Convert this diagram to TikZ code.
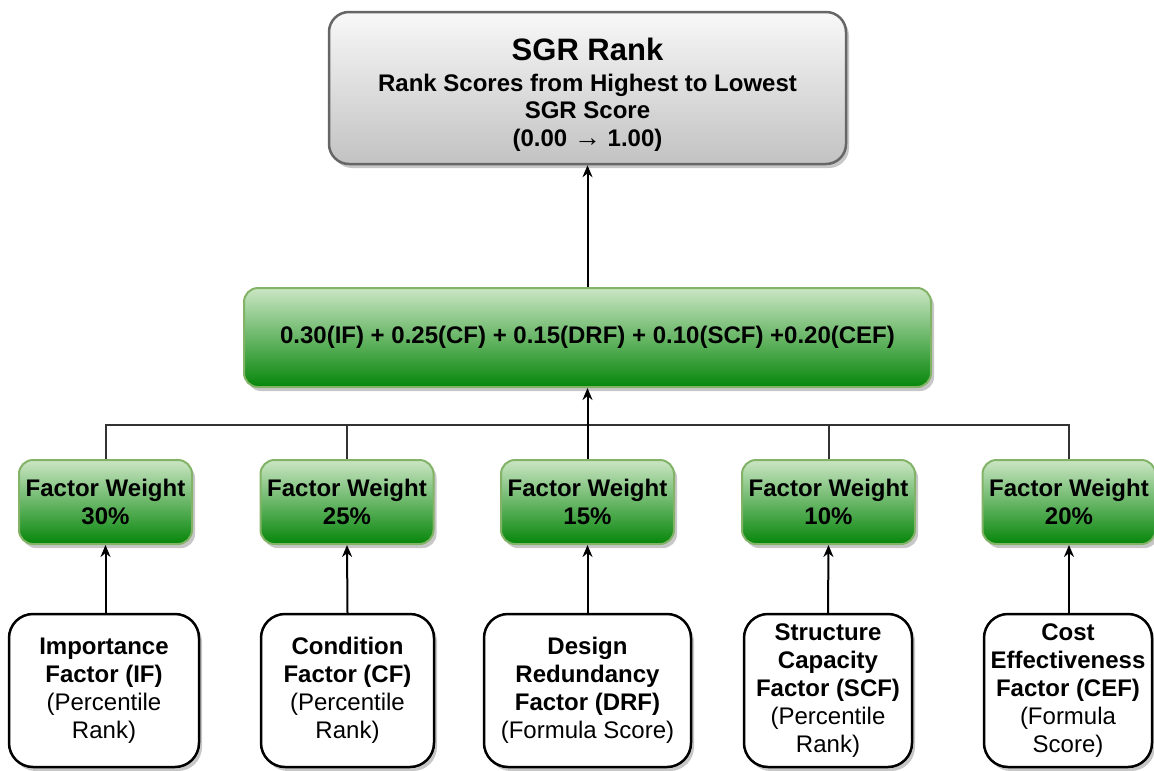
\documentclass[tikz,border=0pt]{standalone}
\usepackage{fontspec}
\setmainfont{Liberation Sans}
\usetikzlibrary{shadows,arrows.meta}
\definecolor{graytop}{HTML}{F8F8F8}
\definecolor{graybot}{HTML}{C2C2C2}
\definecolor{grayline}{HTML}{666666}
\definecolor{greentop}{HTML}{CBE6C4}
\definecolor{greenbot}{HTML}{06860A}
\definecolor{greenline}{HTML}{82B366}
\definecolor{busline}{HTML}{333333}
\begin{document}
\begin{tikzpicture}[x=1pt,y=-1pt,
  shade/.style={drop shadow={shadow xshift=3pt,shadow yshift=-4pt,fill=black,opacity=0.22}},
  topbox/.style={rectangle, rounded corners=20pt, draw=grayline, line width=2.5pt,
    top color=graytop, bottom color=graybot, minimum width=517pt, minimum height=152pt,
    align=center, inner sep=0pt, font=\bfseries\fontsize{24}{27.5}\selectfont, shade},
  greenbox/.style={rectangle, rounded corners=14pt, draw=greenline, line width=2pt,
    top color=greentop, bottom color=greenbot, align=center, inner sep=0pt,
    font=\bfseries\fontsize{24}{28}\selectfont, shade},
  formulabox/.style={greenbox, minimum width=687pt, minimum height=99pt},
  weightbox/.style={greenbox, minimum width=173pt, minimum height=84pt},
  factorbox/.style={rectangle, rounded corners=24pt, draw=black, line width=2.5pt,
    fill=white, align=center, inner sep=0pt, minimum height=153pt,
    font=\fontsize{24}{28}\selectfont, shade},
  arr/.style={draw=black, line width=2pt, -{Stealth[length=12pt,width=10pt]}},
  bus/.style={draw=busline, line width=2pt}
]
\useasboundingbox (0,0) rectangle (1154,771);

\node[topbox] (top) at (587.5,88) {\rule{0pt}{36pt}{\fontsize{31}{35}\selectfont SGR Rank}\\[3pt]
  Rank Scores from Highest to Lowest\\SGR Score\\(0.00 {\fontsize{27}{27}\selectfont →} 1.00)};

\node[formulabox] (formula) at (587.5,337.5)
  {0.30(IF) + 0.25(CF) + 0.15(DRF) + 0.10(SCF) +0.20(CEF)};

\node[weightbox] (w1) at (105.5,502) {Factor Weight\\30\%};
\node[weightbox] (w2) at (347,502) {Factor Weight\\25\%};
\node[weightbox] (w3) at (587.5,502) {Factor Weight\\15\%};
\node[weightbox] (w4) at (828.5,502) {Factor Weight\\10\%};
\node[weightbox] (w5) at (1069,502) {Factor Weight\\20\%};

\node[factorbox, minimum width=190pt] (f1) at (104,690.5)
  {\textbf{Importance}\\\textbf{Factor (IF)}\\(Percentile\\Rank)};
\node[factorbox, minimum width=173pt] (f2) at (347.5,690.5)
  {\textbf{Condition}\\\textbf{Factor (CF)}\\(Percentile\\Rank)};
\node[factorbox, minimum width=207pt] (f3) at (587.5,690.5)
  {\textbf{Design}\\\textbf{Redundancy}\\\textbf{Factor (DRF)}\\(Formula Score)};
\node[factorbox, minimum width=168pt] (f4) at (828,690.5)
  {\textbf{Structure}\\\textbf{Capacity}\\\textbf{Factor (SCF)}\\(Percentile\\Rank)};
\node[factorbox, minimum width=168pt] (f5) at (1068,690.5)
  {\textbf{Cost}\\\textbf{Effectiveness}\\\textbf{Factor (CEF)}\\(Formula\\Score)};

\coordinate (hub) at (587.5,425);

\draw[arr] (formula.north) -- (top.south);
\draw[bus] (w1.north) |- (hub);
\draw[bus] (w2.north) |- (hub);
\draw[bus] (w4.north) |- (hub);
\draw[bus] (w5.north) |- (hub);
\draw[arr] (w3.north) -- (formula.south);

\draw[arr] (f1.north -| w1) -- (w1.south);
\draw[arr] (f2.north) -- (w2.south);
\draw[arr] (f3.north) -- (w3.south);
\draw[arr] (f4.north) -- (w4.south);
\draw[arr] (f5.north -| w5) -- (w5.south);
\end{tikzpicture}
\end{document}
